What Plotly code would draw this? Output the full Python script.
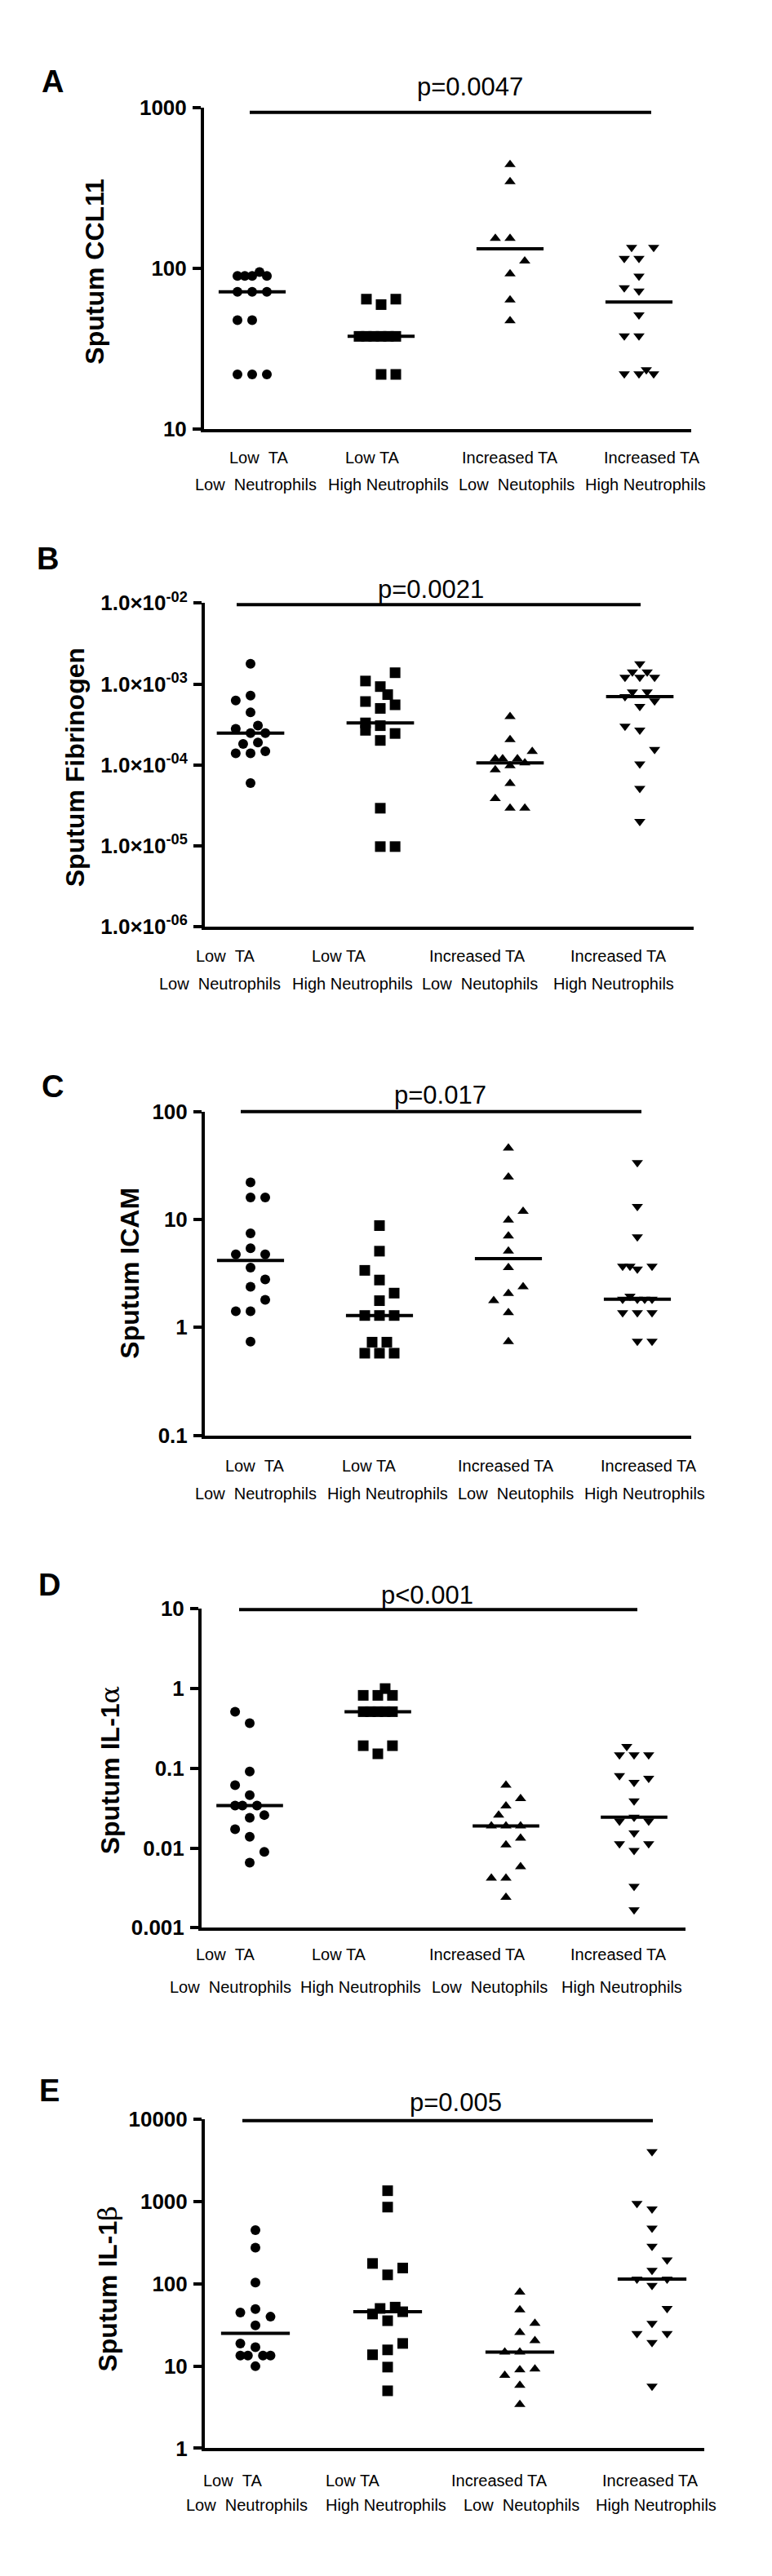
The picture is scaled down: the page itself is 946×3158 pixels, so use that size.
import numpy as np
import plotly.graph_objects as go

W, H = 946, 3158
FONT = "Liberation Sans, Arial, sans-serif"

# ---------------- categories ----------------
LINE1 = ["Low\u00a0\u00a0TA", "Low TA", "Increased TA", "Increased TA"]
LINE2 = ["Low\u00a0\u00a0Neutrophils", "High Neutrophils", "Low\u00a0\u00a0Neutophils", "High Neutrophils"]
SYMBOLS = ["circle", "square", "triangle-up", "triangle-down"]

# ---------------- Panel A: Sputum CCL11 ----------------
A_g1 = [89.4, 89.4, 89.4, 94.6, 89.4, 71.3, 71.3, 71.3, 47.5, 47.5, 21.8, 21.8, 21.8]
A_g1_j = [-2, -1, 0, 1, 2, -2, 0, 2, -2, 0, -2, 0, 2]
A_g2 = [64.1, 59.3, 64.1, 37.6, 37.6, 37.6, 37.6, 37.6, 37.6, 21.8, 21.8]
A_g2_j = [-2, 0, 2, -3, -2, -1, 0, 1, 2, 0, 2]
A_g3 = [441, 345, 153, 153, 110.6, 92.1, 63.4, 47]
A_g3_j = [0, 0, -2, 0, 2, 0, 0, 0]
A_g4 = [134.5, 134.5, 115, 115, 89.3, 75.5, 72, 51.2, 37.9, 37.9, 22, 22, 22, 23.3]
A_g4_j = [-1, 2, -2, 0, 0, -2, 0, 0, -2, 0, -2, 0, 2, 1]

# ---------------- Panel B: Sputum Fibrinogen ----------------
B_g1 = [1.78e-3, 7.2e-4, 6.27e-4, 4.46e-4, 3.06e-4, 2.79e-4, 2.48e-4, 2.48e-4, 1.82e-4, 1.89e-4,
        1.39e-4, 1.39e-4, 1.48e-4, 5.98e-5]
B_g1_j = [0, 0, -2, 0, 1, -2, 0, 2, -1, 1, -2, 0, 2, 0]
B_g2 = [1.38e-3, 1.09e-3, 9.3e-4, 7.4e-4, 6.08e-4, 5.54e-4, 5.0e-4, 3.31e-4, 3.06e-4, 2.68e-4,
        2.45e-4, 2.01e-4, 2.92e-5, 9.8e-6, 9.8e-6]
B_g2_j = [2, -2, 0, 1, -2, 2, 0, -2, 0, -2, 2, 0, 0, 0, 2]
B_g3 = [3.96e-4, 2.05e-4, 1.47e-4, 1.19e-4, 1.19e-4, 1.19e-4, 1.06e-4, 9.8e-5, 8.7e-5, 5.9e-5,
        3.84e-5, 2.92e-5, 2.92e-5]
B_g3_j = [0, 0, 3, -2, -1, 1, 2, 0, -2, 0, -2, 0, 2]
B_g4 = [1.78e-3, 1.41e-3, 1.41e-3, 1.21e-3, 1.21e-3, 1.21e-3, 7.98e-4, 7.98e-4, 7.0e-4, 6.2e-4,
        5.28e-4, 3.02e-4, 2.7e-4, 1.56e-4, 1.03e-4, 5.13e-5, 2.01e-5]
B_g4_j = [0, -1, 1, -2, 0, 2, -1, 1, -2, 2, 0, -2, 0, 2, 0, 0, 0]

# ---------------- Panel C: Sputum ICAM ----------------
C_g1 = [22.1, 16.0, 16.0, 7.46, 5.41, 4.75, 4.75, 3.59, 2.79, 2.38, 1.80, 1.41, 1.41, 0.738]
C_g1_j = [0, 0, 2, 0, 0, -2, 2, 0, 2, 0, 2, -2, 0, 0]
C_g2 = [8.79, 5.09, 3.38, 2.75, 2.08, 1.77, 1.29, 1.29, 1.29, 0.73, 0.73, 0.577, 0.577, 0.577]
C_g2_j = [0, 0, -2, 0, 2, 0, -2, 0, 2, -1, 1, -2, 0, 2]
C_g3 = [45.9, 24.8, 11.9, 9.88, 7.04, 5.09, 3.59, 2.38, 2.06, 1.77, 1.37, 0.738]
C_g3_j = [0, 0, 2, 0, 0, 0, 0, 2, 0, -2, 0, 0]
C_g4 = [33.7, 13.2, 6.92, 3.69, 3.69, 3.69, 3.48, 1.95, 1.83, 1.83, 1.83, 1.83, 1.37, 1.37, 1.37,
        0.746, 0.746]
C_g4_j = [0, 0, 0, -2, -1, 2, 0, -1, -2, 0, 1, 2, -2, 0, 2, 0, 2]

# ---------------- Panel D: Sputum IL-1alpha ----------------
D_g1 = [0.513, 0.369, 0.091, 0.0614, 0.0459, 0.034, 0.034, 0.034, 0.0259, 0.0239, 0.0172, 0.0138,
        0.00896, 0.00654]
D_g1_j = [-2, 0, 0, -2, 0, -2, -1, 1, 2, 0, -2, 0, 2, 0]
D_g2 = [1.0, 0.822, 0.822, 0.822, 0.513, 0.513, 0.513, 0.513, 0.513, 0.192, 0.152, 0.192]
D_g2_j = [1, -2, 0, 2, -2, -1, 0, 1, 2, -2, 0, 2]
D_g3 = [0.0614, 0.0415, 0.0336, 0.0259, 0.0189, 0.0189, 0.0189, 0.0133, 0.0109, 0.00582, 0.00418,
        0.00418, 0.00241]
D_g3_j = [0, 2, 0, -1, -2, 0, 2, 2, 0, 2, -2, 0, 0]
D_g4 = [0.1875, 0.148, 0.148, 0.148, 0.081, 0.0748, 0.0665, 0.0389, 0.0243, 0.0218, 0.0218, 0.0155,
        0.0113, 0.0113, 0.0093, 0.0033, 0.00168]
D_g4_j = [-1, -2, 0, 2, -2, 2, 0, 0, 0, -2, 2, 0, -2, 2, 0, 0, 0]

# ---------------- Panel E: Sputum IL-1beta ----------------
E_g1 = [446, 274, 103, 49.2, 44.6, 39.7, 31.1, 18.8, 16.9, 13.4, 13.4, 13.4, 13.4, 9.93]
E_g1_j = [0, 0, 0, 0, -2, 2, 0, -2, 0, -2, -1, 1, 2, 0]
E_g2 = [1346, 851, 176, 155, 128, 51.9, 50, 45.6, 42.8, 35.5, 18.8, 15.7, 13.7, 9.7, 5.0]
E_g2_j = [0, 0, -2, 2, 0, 1, -1, 2, -2, 0, 2, 0, -2, 0, 0]
E_g3 = [78.9, 48.1, 32.9, 25.5, 20.3, 14.8, 14.8, 9.2, 9.0, 7.7, 5.82, 3.41]
E_g3_j = [0, 0, 2, 0, 2, -2, 0, 2, 0, -2, 0, 0]
E_g4 = [4009, 942, 808, 473, 284, 194, 145, 114, 114, 95.5, 50, 32.9, 24.8, 24.8, 19.3, 5.7]
E_g4_j = [0, -2, 0, 0, 0, 2, 0, -2, 2, 0, 2, 0, -2, 2, 0, 0]

# tick labels
A_ticks = [10, 100, 1000]
A_ticktext = ["10", "100", "1000"]
B_ticks = [1e-6, 1e-5, 1e-4, 1e-3, 1e-2]
B_ticktext = ["1.0×10<sup>-06</sup>", "1.0×10<sup>-05</sup>", "1.0×10<sup>-04</sup>",
              "1.0×10<sup>-03</sup>", "1.0×10<sup>-02</sup>"]
C_ticks = [0.1, 1, 10, 100]
C_ticktext = ["0.1", "1", "10", "100"]
D_ticks = [0.001, 0.01, 0.1, 1, 10]
D_ticktext = ["0.001", "0.01", "0.1", "1", "10"]
E_ticks = [1, 10, 100, 1000, 10000]
E_ticktext = ["1", "10", "100", "1000", "10000"]

P_TEXTS = ["p=0.0047", "p=0.0021", "p=0.017", "p<0.001", "p=0.005"]
LETTERS = ["A", "B", "C", "D", "E"]
TITLES = ["Sputum CCL11", "Sputum Fibrinogen", "Sputum ICAM",
          "Sputum IL-1<span style='font-family:DejaVu Serif;font-weight:normal'>α</span>",
          "Sputum IL-1<span style='font-family:DejaVu Serif;font-weight:normal'>β</span>"]

# ---------------- layout geometry (pixels) ----------------
panels = [
    dict(groups=[(A_g1, A_g1_j), (A_g2, A_g2_j), (A_g3, A_g3_j), (A_g4, A_g4_j)],
         left=250, right=847, top=115, bottom=513, c0=309, sp=158, yr=[1, 3],
         tv=A_ticks, tt=A_ticktext, pline=(306, 798, 121), ptext=(576, 89), letter=(64, 83),
         title=(116, 318), l1y=549, l2y=582,
         l1x=[317, 456, 625, 799], l2x=[313, 476, 633, 791]),
    dict(groups=[(B_g1, B_g1_j), (B_g2, B_g2_j), (B_g3, B_g3_j), (B_g4, B_g4_j)],
         left=251, right=850, top=729, bottom=1130, c0=307, sp=159, yr=[-6, -2],
         tv=B_ticks, tt=B_ticktext, pline=(290, 785, 731), ptext=(528, 712), letter=(58, 674),
         title=(92, 933), l1y=1166, l2y=1201,
         l1x=[276, 415, 585, 758], l2x=[269, 432, 588, 752]),
    dict(groups=[(C_g1, C_g1_j), (C_g2, C_g2_j), (C_g3, C_g3_j), (C_g4, C_g4_j)],
         left=251, right=847, top=1359, bottom=1760, c0=307, sp=158, yr=[-1, 2],
         tv=C_ticks, tt=C_ticktext, pline=(295, 786, 1359), ptext=(539, 1338), letter=(64, 1328),
         title=(159, 1559), l1y=1798, l2y=1832,
         l1x=[312, 452, 620, 795], l2x=[313, 475, 632, 790]),
    dict(groups=[(D_g1, D_g1_j), (D_g2, D_g2_j), (D_g3, D_g3_j), (D_g4, D_g4_j)],
         left=247, right=840, top=1975, bottom=2370, c0=306, sp=157, yr=[-3, 1],
         tv=D_ticks, tt=D_ticktext, pline=(293, 781, 1976), ptext=(523, 1958), letter=(61, 1945),
         title=(135, 2175), l1y=2403, l2y=2444,
         l1x=[276, 415, 585, 758], l2x=[282, 442, 600, 762]),
    dict(groups=[(E_g1, E_g1_j), (E_g2, E_g2_j), (E_g3, E_g3_j), (E_g4, E_g4_j)],
         left=251, right=863, top=2607, bottom=3015, c0=313, sp=162, yr=[0, 4],
         tv=E_ticks, tt=E_ticktext, pline=(297, 800, 2609), ptext=(558, 2587), letter=(61, 2572),
         title=(132, 2818), l1y=3055, l2y=3085,
         l1x=[285, 432, 612, 797], l2x=[302, 473, 639, 804]),
]

JIT = 0.057
HALF = 0.26
SIZES = [12, 13, 12, 12]


def px(x):
    return x / W


def py(y):
    return 1 - y / H


fig = go.Figure()
annotations = []
shapes = []
layout = {}

for k, p in enumerate(panels):
    n = "" if k == 0 else str(k + 1)
    xa, ya = "x" + n, "y" + n
    for gi, (vals, jit) in enumerate(p["groups"]):
        xs = [gi + j * JIT for j in jit]
        fig.add_trace(go.Scatter(
            x=xs, y=vals, mode="markers", xaxis=xa, yaxis=ya, cliponaxis=False,
            marker=dict(symbol=SYMBOLS[gi], size=SIZES[gi], color="black", line=dict(width=0)),
            hoverinfo="y", showlegend=False))
        med = float(np.median(vals))
        fig.add_trace(go.Scatter(
            x=[gi - HALF, gi + HALF], y=[med, med], mode="lines", xaxis=xa, yaxis=ya,
            line=dict(color="black", width=4), cliponaxis=False, hoverinfo="skip", showlegend=False))

    layout["xaxis" + n] = dict(
        domain=[px(p["left"]), px(p["right"])],
        range=[(p["left"] - p["c0"]) / p["sp"], (p["right"] - p["c0"]) / p["sp"]],
        anchor=ya, showline=True, linewidth=4, linecolor="black", showgrid=False,
        zeroline=False, showticklabels=False, ticks="", fixedrange=True)
    layout["yaxis" + n] = dict(
        domain=[py(p["bottom"]), py(p["top"])], type="log", range=p["yr"],
        anchor=xa, showline=True, linewidth=4, linecolor="black", showgrid=False,
        zeroline=False, ticks="outside", ticklen=10, tickwidth=4, tickcolor="black",
        tickvals=p["tv"], ticktext=p["tt"], ticklabelstandoff=2,
        tickfont=dict(family=FONT, size=26, color="black", weight="bold"), fixedrange=True)

    x0, x1, yl = p["pline"]
    shapes.append(dict(type="line", xref="paper", yref="paper", x0=px(x0), x1=px(x1),
                       y0=py(yl), y1=py(yl), line=dict(color="black", width=4)))
    annotations.append(dict(text=P_TEXTS[k], x=px(p["ptext"][0]), y=py(p["ptext"][1]),
                            xref="paper", yref="paper", showarrow=False, xanchor="center",
                            yanchor="middle", font=dict(family=FONT, size=31, color="black")))
    annotations.append(dict(text=LETTERS[k], x=px(p["letter"][0]), y=py(p["letter"][1]),
                            xref="paper", yref="paper", showarrow=False, xanchor="center",
                            yanchor="middle",
                            font=dict(family=FONT, size=38, color="black", weight="bold")))
    annotations.append(dict(text=TITLES[k], x=px(p["title"][0]), y=py(p["title"][1]),
                            xref="paper", yref="paper", showarrow=False, xanchor="center",
                            yanchor="middle", textangle=-90,
                            font=dict(family=FONT, size=32, color="black", weight="bold")))
    for i in range(4):
        annotations.append(dict(text=LINE1[i], x=px(p["l1x"][i]), y=py(p["l1y"]),
                                xref="paper", yref="paper", showarrow=False, xanchor="center",
                                yanchor="middle", font=dict(family=FONT, size=20, color="black")))
        annotations.append(dict(text=LINE2[i], x=px(p["l2x"][i]), y=py(p["l2y"]),
                                xref="paper", yref="paper", showarrow=False, xanchor="center",
                                yanchor="middle", font=dict(family=FONT, size=20, color="black")))

fig.update_layout(
    width=W, height=H, margin=dict(l=0, r=0, t=0, b=0, pad=0),
    paper_bgcolor="white", plot_bgcolor="white", showlegend=False,
    annotations=annotations, shapes=shapes, **layout)

fig.write_html("out.html", config={"displayModeBar": False},
               post_script="document.body.style.margin='0px';")
